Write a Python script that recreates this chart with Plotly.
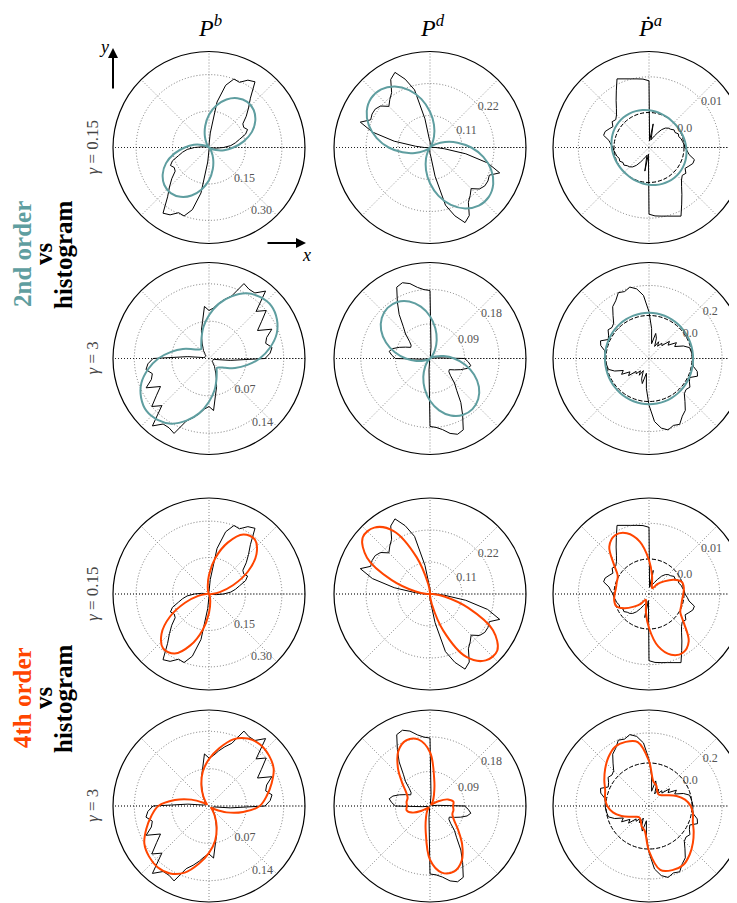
import plotly.graph_objects as go

W, H = 737, 903
OFF = 8  # the page body adds an 8px margin; positions below are compensated for it
TEAL = "#5F9EA0"
ORANGE = "#FF4500"
SERIF = "Liberation Serif, DejaVu Serif, serif"

# ---------------- data ----------------
theta_hist_half = list(range(0, 180, 5))    # histogram bin angles (deg), mirrored by 180
theta_fit_half = list(range(0, 180, 10))    # fitted-distribution sample angles (deg)

col_titles = ["<i>P</i><sup><i>b</i></sup>", "<i>P</i><sup><i>d</i></sup>", "<i>Ṗ</i><sup><i>a</i></sup>"]
gamma_labels = ["<i>γ</i> = 0.15", "<i>γ</i> = 3"]

# histograms (same for 2nd/4th order rows)
pb_g015_hist = [0.06, 0.09, 0.11, 0.13, 0.16, 0.175, 0.165, 0.17, 0.20, 0.23,
                0.265, 0.33, 0.32, 0.296, 0.30, 0.265, 0.19, 0.06, 0.01, 0.005,
                0.005, 0.005, 0.005, 0.005, 0.005, 0.005, 0.005, 0.005, 0.005, 0.005,
                0.005, 0.005, 0.005, 0.005, 0.01, 0.03]
pb_g3_hist = [0.105, 0.115, 0.12, 0.11, 0.115, 0.13, 0.105, 0.12, 0.14, 0.125,
              0.165, 0.15, 0.15, 0.155, 0.125, 0.115, 0.105, 0.095, 0.09, 0.098,
              0.07, 0.055, 0.04, 0.03, 0.022, 0.018, 0.012, 0.01, 0.008, 0.008,
              0.008, 0.008, 0.008, 0.008, 0.01, 0.04]
pd_g015_hist = [0.02, 0.005, 0.005, 0.005, 0.005, 0.005, 0.005, 0.005, 0.005, 0.005,
                0.005, 0.005, 0.005, 0.005, 0.005, 0.005, 0.005, 0.01, 0.02, 0.03,
                0.10, 0.205, 0.25, 0.285, 0.27, 0.23, 0.215, 0.20, 0.222, 0.23,
                0.23, 0.225, 0.255, 0.205, 0.125, 0.05]
pd_g3_hist = [0.09, 0.02, 0.005, 0.005, 0.005, 0.005, 0.005, 0.005, 0.005, 0.005,
              0.005, 0.005, 0.005, 0.005, 0.005, 0.005, 0.005, 0.03, 0.177, 0.18,
              0.188, 0.202, 0.21, 0.205, 0.17, 0.14, 0.108, 0.09, 0.07, 0.06,
              0.058, 0.07, 0.085, 0.10, 0.108, 0.10]
pa_g015_hist = [0.00028, 0.00009, -0.00028, -0.00047, -0.00094, -0.00075, -0.00140, -0.00122, -0.00187, -0.00215,
                -0.00271, -0.00374, -0.00515, -0.00627, -0.00702, -0.00758, -0.0031, -0.00795, 0.00888, 0.00944,
                0.00972, 0.01010, 0.01066, 0.01141, 0.00851, 0.00626, 0.00439, 0.00308, 0.00234, 0.00280,
                0.00187, 0.00252, 0.00327, 0.00336, 0.00159, 0.00093]
pa_g3_hist = [0.006, 0.002, -0.003, -0.007, -0.043, -0.098, -0.076, -0.132, -0.109, -0.165,
              -0.154, -0.187, -0.158, -0.198, -0.143, -0.114, -0.187, -0.087, 0.024, 0.135,
              0.184, 0.206, 0.188, 0.197, 0.157, 0.135, 0.086, 0.046, 0.035, 0.046,
              0.024, 0.013, 0.057, 0.046, 0.013, 0.006]

# fitted distributions
pb_g015_o2 = [0.10, 0.145, 0.188, 0.22, 0.24, 0.245, 0.234, 0.21, 0.175, 0.135, 0.09, 0.05, 0.02, 0.004, 0.0, 0.008, 0.03, 0.063]
pb_g015_o4 = [0.012, 0.045, 0.105, 0.185, 0.255, 0.293, 0.283, 0.225, 0.15, 0.078, 0.03, 0.008, 0.0, 0.0, 0.0, 0.0, 0.002, 0.004]
pb_g3_o2 = [0.095, 0.116, 0.135, 0.147, 0.153, 0.150, 0.141, 0.124, 0.104, 0.081, 0.060, 0.041, 0.029, 0.023, 0.026, 0.035, 0.052, 0.072]
pb_g3_o4 = [0.095, 0.11, 0.125, 0.14, 0.147, 0.15, 0.146, 0.133, 0.11, 0.088, 0.066, 0.042, 0.022, 0.01, 0.005, 0.012, 0.035, 0.065]
pd_g015_o2 = [0.142, 0.096, 0.055, 0.023, 0.004, 0.001, 0.013, 0.040, 0.079, 0.123, 0.169, 0.210, 0.242, 0.261, 0.264, 0.251, 0.224, 0.186]
pd_g015_o4 = [0.01, 0.002, 0.0, 0.0, 0.0, 0.0, 0.0, 0.0, 0.0, 0.005, 0.035, 0.135, 0.25, 0.298, 0.302, 0.25, 0.14, 0.05]
pd_g3_o2 = [0.063, 0.036, 0.015, 0.003, 0.0005, 0.009, 0.026, 0.051, 0.080, 0.110, 0.137, 0.158, 0.170, 0.172, 0.164, 0.147, 0.122, 0.093]
pd_g3_o4 = [0.06, 0.062, 0.05, 0.025, 0.008, 0.005, 0.015, 0.03, 0.065, 0.14, 0.176, 0.182, 0.165, 0.13, 0.095, 0.072, 0.062, 0.062]
pa_g015_o2 = [0.00063, 0.00041, 0.00022, 0.00008, 0.00001, 0.00001, 0.00008, 0.00022, 0.00041, 0.00063, 0.00085, 0.00104, 0.00118, 0.00125, 0.00125, 0.00118, 0.00104, 0.00085]
pa_g015_o4 = [-0.0002, 0.0001, 0.0, -0.0018, -0.0043, -0.0062, -0.0080, -0.0075, -0.0048, -0.0003, 0.0051, 0.0083, 0.0092, 0.0075, 0.0030, 0.0003, -0.0002, -0.0004]
pa_g3_o2 = [0.0071, 0.0071, 0.0077, 0.0090, 0.0106, 0.0125, 0.0144, 0.0160, 0.0173, 0.0179, 0.0179, 0.0173, 0.0160, 0.0144, 0.0125, 0.0106, 0.0090, 0.0077]
pa_g3_o4 = [-0.009, -0.043, -0.092, -0.143, -0.176, -0.187, -0.176, -0.143, -0.120, 0.013, 0.146, 0.168, 0.168, 0.135, 0.095, 0.057, 0.024, 0.010]

# radial axis settings per (gamma, column)
r_ranges = {(0, 0): [0, 0.395], (0, 1): [0, 0.33], (0, 2): [-0.00982, 0.0171],
            (1, 0): [0, 0.18], (1, 1): [0, 0.25], (1, 2): [-0.287, 0.353]}
r_ticks = {(0, 0): [0.15, 0.30], (0, 1): [0.11, 0.22], (0, 2): [0.0, 0.01],
           (1, 0): [0.07, 0.14], (1, 1): [0.09, 0.18], (1, 2): [0.0, 0.2]}
r_ticktext = {(0, 0): ["0.15", "0.30"], (0, 1): ["0.11", "0.22"], (0, 2): ["0.0", "0.01"],
              (1, 0): ["0.07", "0.14"], (1, 1): ["0.09", "0.18"], (1, 2): ["0.0", "0.2"]}

hists = {(0, 0): pb_g015_hist, (0, 1): pd_g015_hist, (0, 2): pa_g015_hist,
         (1, 0): pb_g3_hist, (1, 1): pd_g3_hist, (1, 2): pa_g3_hist}
fits = {(2, 0, 0): pb_g015_o2, (2, 0, 1): pd_g015_o2, (2, 0, 2): pa_g015_o2,
        (2, 1, 0): pb_g3_o2, (2, 1, 1): pd_g3_o2, (2, 1, 2): pa_g3_o2,
        (4, 0, 0): pb_g015_o4, (4, 0, 1): pd_g015_o4, (4, 0, 2): pa_g015_o4,
        (4, 1, 0): pb_g3_o4, (4, 1, 1): pd_g3_o4, (4, 1, 2): pa_g3_o4}

# panel rows: (order, gamma index)
rows = [(2, 0), (2, 1), (4, 0), (4, 1)]

# ---------------- layout geometry (screen px) ----------------
col_cx = [209, 430, 649]
row_cy = [147.5, 358.5, 594, 806]
RAD = 96
label_angle = [-62, 48, 48]
label_side = ["counterclockwise", "clockwise", "clockwise"]


def px(x):
    return (x - OFF) / W


def py(y):
    return 1 - (y - OFF) / H


def closed(theta_half, r_half):
    th = theta_half + [t + 180 for t in theta_half] + [360]
    r = list(r_half) + list(r_half) + [r_half[0]]
    return th, r


fig = go.Figure()
layout = {}
k = 0
for ri, (order, g) in enumerate(rows):
    for ci in range(3):
        k += 1
        pname = "polar" if k == 1 else f"polar{k}"
        cx, cy = col_cx[ci], row_cy[ri]
        ang = label_angle[ci]
        rr = r_ranges[(g, ci)]
        layout[pname] = dict(
            domain=dict(x=[max(0.0, px(cx - RAD)), min(1.0, px(cx + RAD))],
                        y=[max(0.0, py(cy + RAD)), min(1.0, py(cy - RAD))]),
            bgcolor="white",
            radialaxis=dict(range=rr, tickvals=r_ticks[(g, ci)],
                            ticktext=r_ticktext[(g, ci)], showline=False, ticks="",
                            gridcolor="#777", griddash="1px,2px", gridwidth=1,
                            angle=ang, tickangle=ang, side=label_side[ci],
                            tickfont=dict(family=SERIF, size=12, color="#555")),
            angularaxis=dict(dtick=45, showticklabels=False, ticks="",
                             gridcolor="#888", griddash="1px,2px", gridwidth=1,
                             showline=True, linecolor="black", linewidth=1.2,
                             rotation=0, direction="counterclockwise"),
        )
        # darker dotted horizontal diameter (x direction)
        fig.add_trace(go.Scatterpolar(theta=[0, 180], r=[rr[1], rr[1]], mode="lines", subplot=pname,
                                      line=dict(color="#222", width=1, dash="1px,2px"),
                                      showlegend=False, hoverinfo="skip"))
        th, r = closed(theta_hist_half, hists[(g, ci)])
        fig.add_trace(go.Scatterpolar(theta=th, r=r, mode="lines", subplot=pname,
                                      line=dict(color="black", width=1), showlegend=False))
        if ci == 2:
            thz = list(range(0, 361, 5))
            fig.add_trace(go.Scatterpolar(theta=thz, r=[0.0] * len(thz), mode="lines", subplot=pname,
                                          line=dict(color="black", width=1, dash="4px,2px"),
                                          showlegend=False))
        thf, rf = closed(theta_fit_half, fits[(order, g, ci)])
        fig.add_trace(go.Scatterpolar(theta=thf, r=rf, mode="lines", subplot=pname,
                                      line=dict(color=TEAL if order == 2 else ORANGE, width=2,
                                                shape="spline", smoothing=1.0),
                                      showlegend=False))

annotations = []


def text_ann(x, y, text, size, color="black", angle=0):
    return dict(x=px(x), y=py(y), xref="paper", yref="paper", text=text, showarrow=False,
                xanchor="center", yanchor="middle", textangle=angle,
                font=dict(family=SERIF, size=size, color=color))


title_x = [210, 432, 650]
for ci, t in enumerate(col_titles):
    annotations.append(text_ann(title_x[ci], 26, t, 24))
for ri, (order, g) in enumerate(rows):
    annotations.append(text_ann(92, row_cy[ri], gamma_labels[g], 17, "#444", -90))

groups = [("2nd order", TEAL, 254), ("4th order", ORANGE, 698)]
for label, colr, ymid in groups:
    for xpos, txt, c in [(22, label, colr), (43, "vs", "black"), (63, "histogram", "black")]:
        annotations.append(text_ann(xpos, ymid, f"<b>{txt}</b>", 25, c, -90))

# direction arrows
annotations.append(dict(x=px(113), y=py(48), xref="paper", yref="paper", text="",
                        showarrow=True, ax=0, ay=42, arrowhead=2, arrowsize=1, arrowwidth=2,
                        arrowcolor="black"))
annotations.append(text_ann(104, 47, "<i>y</i>", 18))
annotations.append(dict(x=px(306), y=py(243), xref="paper", yref="paper", text="",
                        showarrow=True, ax=-40, ay=0, arrowhead=2, arrowsize=1, arrowwidth=2,
                        arrowcolor="black"))
annotations.append(text_ann(306, 255, "<i>x</i>", 18))

fig.update_layout(width=W, height=H, margin=dict(l=0, r=0, t=0, b=0),
                  paper_bgcolor="white", plot_bgcolor="white",
                  annotations=annotations, **layout)
fig.write_html("out.html")
